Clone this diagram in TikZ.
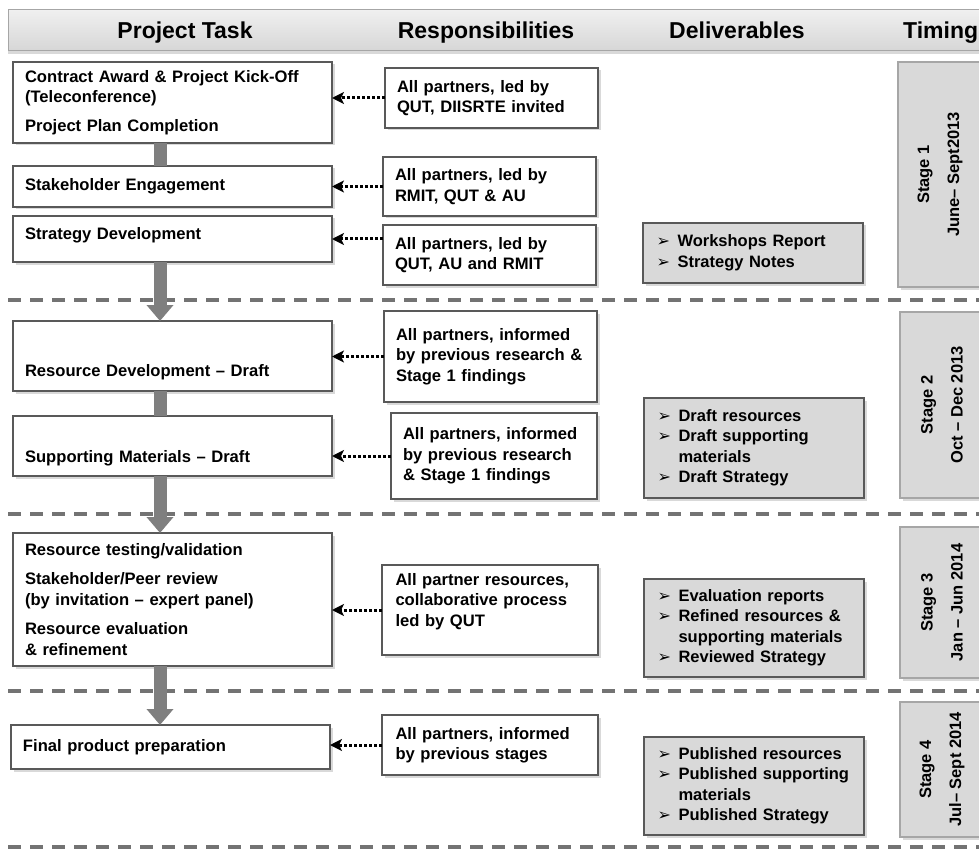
\documentclass[tikz,border=0pt]{standalone}
\usepackage{fontspec}
\setmainfont{Liberation Sans}
\newfontfamily\symfont{DejaVu Sans}
\usetikzlibrary{arrows.meta,shadows,positioning}

\definecolor{boxline}{HTML}{595959}
\definecolor{panelfill}{HTML}{D9D9D9}
\definecolor{stageline}{HTML}{A6A6A6}
\definecolor{flowgray}{HTML}{7F7F7F}
\definecolor{divgray}{HTML}{737373}

\newcommand{\bodyfont}{\fontsize{16.6}{20.5}\selectfont\bfseries}
\newcommand{\dbul}{\makebox[21pt][l]{\symfont\fontsize{16}{16}\selectfont ➢}}
\newcommand{\dgap}{\hspace*{21pt}}

\begin{document}
\begin{tikzpicture}[x=1pt,y=-1pt,
    box/.style={draw=boxline,line width=1.8pt,fill=white,anchor=north west,
      align=left,inner xsep=12pt,inner ysep=0pt,outer sep=0pt,font=\bodyfont,
      drop shadow={opacity=0.3,shadow xshift=2.5pt,shadow yshift=-2.5pt}},
    deliv/.style={box,fill=panelfill,minimum width=220,text width=193,
      inner xsep=13.5pt,font=\fontsize{16.5}{20.5}\selectfont\bfseries},
    stagebox/.style={draw=stageline,line width=1.4pt,fill=panelfill,anchor=north west,
      minimum width=84,outer sep=0pt,
      drop shadow={opacity=0.3,shadow xshift=2.5pt,shadow yshift=-2.5pt}},
    stagetext/.style={rotate=90,align=center,inner sep=0pt,
      font=\fontsize{16.5}{30}\selectfont\bfseries},
    headtext/.style={font=\fontsize{23}{23}\selectfont\bfseries,inner sep=0pt,anchor=base},
    divider/.style={draw=divgray,line width=3.5pt,dash pattern=on 13pt off 9pt},
    flow/.style={draw=flowgray,line width=13pt},
    flowhead/.style={flow,-{Triangle[length=16pt,width=26pt]}},
    link/.style={draw=black,line width=3pt,dash pattern=on 2.6pt off 2.4pt,
      -{Stealth[length=12pt,width=12pt,inset=3pt]}}]
  \useasboundingbox (0,0) rectangle (979,850);

  \node (bar) [anchor=north west,minimum width=985,minimum height=41,outer sep=0pt,
    draw=stageline,line width=1pt,top color=gray!12,bottom color=gray!32,
    drop shadow={opacity=0.3,shadow xshift=0pt,shadow yshift=-3pt}] at (8,10) {};
  \node (hTask) [headtext] at (185,39) {Project Task};
  \node (hResp) [headtext] at (486,39) {Responsibilities};
  \node (hDeliv) [headtext] at (737,39) {Deliverables};
  \node (hTime) [headtext,anchor=base west] at (903,39) {Timing};

  \foreach \yy in {300,514,691,847}
    \draw[divider] (8,\yy) -- (990,\yy);

  \begin{scope}[every node/.style={box,minimum width=319,text width=295}]
    \node (t1) [minimum height=81] at (13,62)
      {Contract Award \& Project Kick-Off\\(Teleconference)\\[8pt]Project Plan Completion};
    \node (t2) [minimum height=41] at (13,166) {Stakeholder Engagement};
    \node (t3) [minimum height=46] at (13,216) {Strategy Development\\[-10pt]\mbox{}};
    \node (t4) [minimum height=70] at (13,321) {\mbox{}\\[24pt]Resource Development – Draft};
    \node (t5) [minimum height=60] at (13,416) {\mbox{}\\[15.5pt]Supporting Materials – Draft};
    \node (t6) [minimum height=133] at (13,533)
      {Resource testing/validation\\[9pt]Stakeholder/Peer review\\(by invitation – expert panel)\\[9pt]Resource evaluation\\\& refinement};
    \node (t7) [minimum height=44] at (11,725) {Final product preparation};
  \end{scope}

  \begin{scope}[every node/.style={box,minimum width=213,text width=189}]
    \node (r1) [minimum height=60] at (385,68) {All partners, led by\\QUT, DIISRTE invited};
    \node (r2) [minimum height=59] at (383,157) {All partners, led by\\RMIT, QUT \& AU};
    \node (r3) [minimum height=60] at (383,225) {All partners, led by\\QUT, AU and RMIT};
    \node (r4) [minimum height=91] at (384,311)
      {All partners, informed\\by previous research~\&\\Stage 1 findings};
    \node (r5) [minimum height=86,minimum width=206,text width=182] at (391,413)
      {All partners, informed\\by previous research\\\& Stage 1 findings};
    \node (r6) [minimum height=90,minimum width=216] at (382,565)
      {All partner resources,\\collaborative process\\led by QUT\\\mbox{}};
    \node (r7) [minimum height=60,minimum width=216] at (382,715)
      {All partners, informed\\by previous stages};
  \end{scope}

  \node (d1) [deliv,minimum height=60] at (643,223)
    {\dbul Workshops Report\\\dbul Strategy Notes};
  \node (d2) [deliv,minimum height=100] at (644,398)
    {\dbul Draft resources\\\dbul Draft supporting\\\dgap materials\\\dbul Draft Strategy};
  \node (d3) [deliv,minimum height=98] at (644,579)
    {\dbul Evaluation reports\\\dbul Refined resources \&\\\dgap supporting materials\\\dbul Reviewed Strategy};
  \node (d4) [deliv,minimum height=98] at (644,737)
    {\dbul Published resources\\\dbul Published supporting\\\dgap materials\\\dbul Published Strategy};

  \node (s1) [stagebox,minimum height=225] at (898,62) {};
  \node (s2) [stagebox,minimum height=186] at (900,312) {};
  \node (s3) [stagebox,minimum height=151] at (900,527) {};
  \node (s4) [stagebox,minimum height=135] at (900,702) {};
  \node (s1t) [stagetext] at (s1.center) {Stage 1\\June– Sept2013};
  \node (s2t) [stagetext] at (s2.center) {Stage 2\\Oct – Dec 2013};
  \node (s3t) [stagetext] at (s3.center) {Stage 3\\Jan – Jun 2014};
  \node (s4t) [stagetext] at (s4.center) {Stage 4\\Jul– Sept 2014};

  \coordinate (axis) at (160,0);
  \draw[flow] (t1.south -| axis) -- (t2.north -| axis);
  \draw[flowhead] (t3.south -| axis) -- (t4.north -| axis);
  \draw[flow] (t4.south -| axis) -- (t5.north -| axis);
  \draw[flowhead] (t5.south -| axis) -- (t6.north -| axis);
  \draw[flowhead] (t6.south -| axis) -- (t7.north -| axis);

  \draw[link] (r1.west) -- (r1.west -| t1.east);
  \draw[link] (r2.west) -- (r2.west -| t2.east);
  \draw[link] (t3.east -| r3.west) -- (t3.east);
  \draw[link] (r4.west) -- (r4.west -| t4.east);
  \draw[link] (r5.west) -- (r5.west -| t5.east);
  \draw[link] (r6.west) -- (r6.west -| t6.east);
  \draw[link] (r7.west) -- (r7.west -| t7.east);
\end{tikzpicture}
\end{document}
